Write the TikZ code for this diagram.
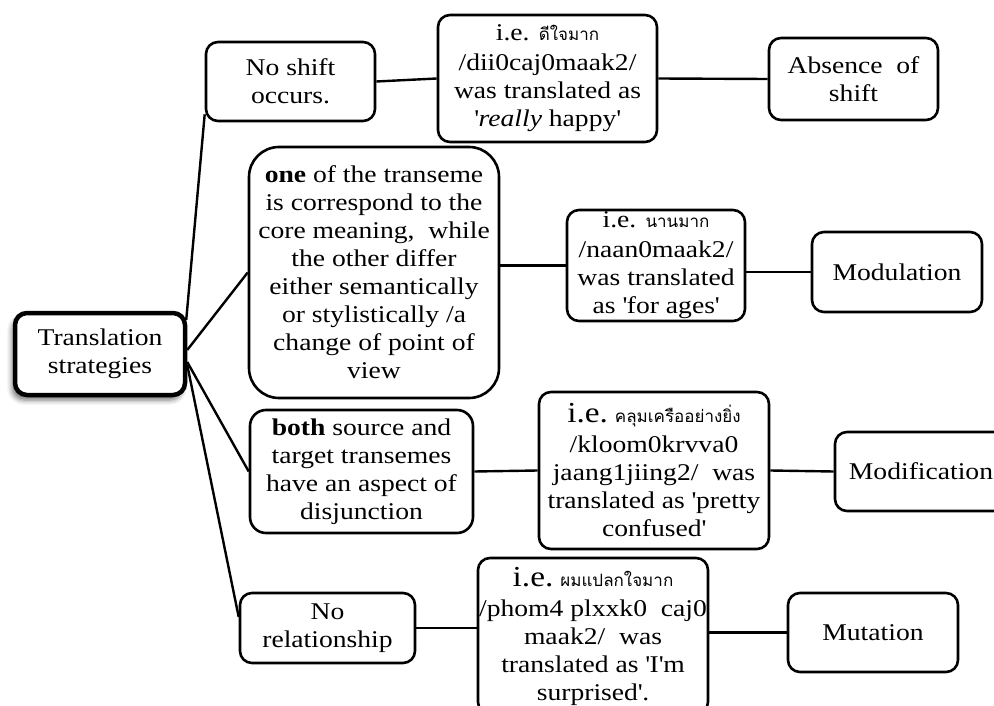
\documentclass[tikz,border=0pt]{standalone}
\usepackage{fontspec}
\setmainfont{Liberation Serif}[FakeStretch=1.15]
\newfontfamily\thaifont[Script=Thai]{Loma}
\usetikzlibrary{calc,shadows.blur}
\newcommand{\thaiword}[1]{{\thaifont\fontsize{17}{20}\selectfont #1}}
\newcommand{\bigie}{{\fontsize{29}{28}\selectfont i.e.}}
\newcommand{\sq}{\textquotesingle}
\begin{document}
\begin{tikzpicture}[x=1pt,y=-1pt,
  box/.style={draw, line width=2.6pt, rounded corners=12pt, align=center,
    inner sep=0pt, fill=white, font=\fontsize{24}{28}\selectfont},
  rootbox/.style={box, line width=4.5pt,
    blur shadow={shadow xshift=-3pt, shadow yshift=-5pt,
      shadow blur radius=5pt, shadow opacity=55}},
  link/.style={line width=2.4pt}]
\useasboundingbox (0,0) rectangle (994,706);

% root
\node[rootbox, minimum width=170pt, minimum height=82pt] (ts) at (100,354)
  {Translation\\strategies};

% second column
\node[box, minimum width=169pt, minimum height=79pt] (ns) at (290.5,81.5)
  {No shift\\occurs.};
\node[box, rounded corners=30pt, minimum width=250pt, minimum height=251pt] (one) at (374,272.5)
  {\textbf{one} of the transeme\\is correspond to the\\core meaning,\ \ while\\the other differ\\either semantically\\or stylistically /a\\change of point of\\view};
\node[box, rounded corners=16pt, minimum width=223pt, minimum height=123pt] (both) at (361.5,471.5)
  {\textbf{both} source and\\target transemes\\have an aspect of\\disjunction};
\node[box, minimum width=175pt, minimum height=70pt] (norel) at (327.5,628)
  {No\\relationship};

% examples
\node[box, minimum width=219pt, minimum height=127pt] (ie1) at (547.5,78.5)
  {i.e. \thaiword{ดีใจมาก}\\[2pt]/dii0caj0maak2/\\was translated as\\\sq\textit{really} happy\sq};
\node[box, minimum width=178pt, minimum height=111pt] (ie2) at (656,265.5)
  {i.e. \thaiword{นานมาก}\\[2pt]/naan0maak2/\\was translated\\as \sq for ages\sq};
\node[box, minimum width=230pt, minimum height=157pt] (ie3) at (654,470.5)
  {\bigie\ \thaiword{คลุมเครืออย่างยิ่ง}\\[2pt]/kloom0krvva0\\jaang1jiing2/\ \ was\\translated as \sq pretty\\confused\sq};
\node[box, minimum width=230pt, minimum height=156pt] (ie4) at (593,636)
  {\bigie\ \thaiword{ผมแปลกใจมาก}\\[2pt]/phom4 plxxk0\ \ caj0\\maak2/\ \ was\\translated as \sq I\sq m\\surprised\sq .};

% results
\node[box, minimum width=169pt, minimum height=82pt] (abs) at (853.5,79)
  {Absence\ \ of\\shift};
\node[box, minimum width=170pt, minimum height=80pt] (mod) at (897,272)
  {Modulation};
\node[box, minimum width=172pt, minimum height=79pt] (modif) at (921,471.5)
  {Modification};
\node[box, minimum width=170pt, minimum height=79pt] (mut) at (873,632.5)
  {Mutation};

% branches from the root
\draw[link] ($(ts.north east)+(-1,9)$) -- ($(ns.south west)+(0,-8)$);
\draw[link] ($(ts.east)+(0,-4)$) -- (one.west);
\draw[link] ($(ts.east)+(0,8)$) -- (both.west);
\draw[link] ($(ts.east)+(0,11)$) -- ($(norel.west)+(0,-11)$);

% rows
\draw[link] (ns.east) -- (ie1.west);
\draw[link] (ie1.east) -- (abs.west);
\draw[link] (ie2.west -| one.east) -- (ie2.west);
\draw[link] (mod.west -| ie2.east) -- (mod.west);
\draw[link] (both.east) -- (ie3.west);
\draw[link] (ie3.east) -- (modif.west);
\draw[link] (norel.east) -- (ie4.west |- norel.east);
\draw[link] (mut.west -| ie4.east) -- (mut.west);
\end{tikzpicture}
\end{document}
